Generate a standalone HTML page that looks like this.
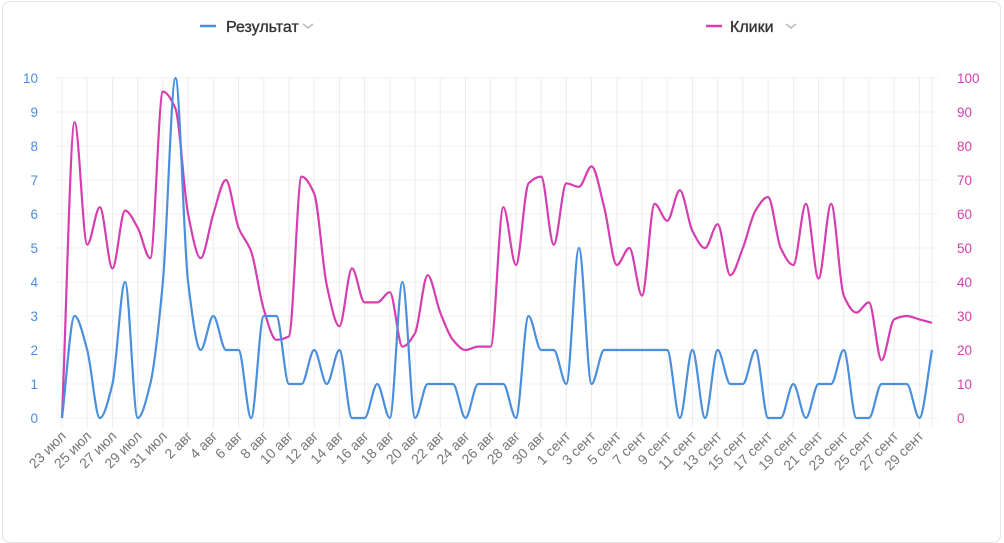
<!DOCTYPE html>
<html><head><meta charset="utf-8"><style>
body{margin:0;background:#fff;width:1004px;height:530px;overflow:hidden;font-family:"Liberation Sans",sans-serif}
.card{position:absolute;left:2px;top:1px;width:997px;height:540px;border:1px solid #e3e3e3;border-radius:8px}
</style></head><body>
<div class="card"></div>
<svg id="s" width="1004" height="530" style="position:absolute;left:0;top:0" font-family="Liberation Sans, sans-serif"></svg>
<script>
var s=document.getElementById('s'),h='';
var B=[0,3,2,0,1,4,0,1,4,10,4,2,3,2,2,0,3,3,1,1,2,1,2,0,0,1,0,4,0,1,1,1,0,1,1,1,0,3,2,2,1,5,1,2,2,2,2,2,2,0,2,0,2,1,1,2,0,0,1,0,1,1,2,0,0,1,1,1,0,2];
var P=[0,87,51,62,44,61,56,47,96,91,60,47,60,70,56,49,32,23,24,71,66,39,27,44,34,34,37,21,25,42,31,23,20,21,21,62,45,69,71,51,69,68,74,62,45,50,36,63,58,67,55,50,57,42,50,61,65,50,45,63,41,63,36,31,34,17,29,30,29,28];
function X(d){return 62+d*870/69}
var mon=['июл','авг','сент'];
for(var v=0;v<=10;v++){var y=418-v*34;h+='<line x1="55" x2="938" y1="'+y+'" y2="'+y+'" stroke="#f0f0f0"/>';
h+='<text x="38" y="'+(y+5)+'" text-anchor="end" font-size="13.5" fill="#4a8fdd">'+v+'</text>';
h+='<text x="957" y="'+(y+5)+'" font-size="13.5" fill="#d63eaf">'+(v*10)+'</text>';}
for(var d=0;d<=68;d+=2){var x=X(d);h+='<line x1="'+x+'" x2="'+x+'" y1="78" y2="428" stroke="#ececec"/>';
var dd=new Date(2023,6,23+d);var lab=dd.getDate()+' '+mon[dd.getMonth()-6];
h+='<text transform="translate('+(x+5)+',437) rotate(-45)" text-anchor="end" font-size="14" fill="#777">'+lab+'</text>';}
h+='<line x1="932" x2="932" y1="78" y2="428" stroke="#ececec"/>';
function path(a,sc){var n=a.length,xs=[],ys=[];for(var i=0;i<n;i++){xs.push(X(i));ys.push(418-a[i]*sc)}
var dl=[],m=[];for(i=0;i<n-1;i++)dl.push((ys[i+1]-ys[i])/(xs[i+1]-xs[i]));
m[0]=dl[0];m[n-1]=dl[n-2];for(i=1;i<n-1;i++){if(dl[i-1]*dl[i]<=0)m[i]=0;else m[i]=2/(1/dl[i-1]+1/dl[i]);}
var p='M'+xs[0]+','+ys[0];for(i=0;i<n-1;i++){var hh=(xs[i+1]-xs[i])/3;
p+='C'+(xs[i]+hh)+','+(ys[i]+m[i]*hh)+' '+(xs[i+1]-hh)+','+(ys[i+1]-m[i+1]*hh)+' '+xs[i+1]+','+ys[i+1];}return p}
h+='<path d="'+path(P,3.4)+'" fill="none" stroke="#d63eaf" stroke-width="2.2"/>';
h+='<path d="'+path(B,34)+'" fill="none" stroke="#4a8fdd" stroke-width="2.2"/>';
h+='<line x1="200" x2="216" y1="26" y2="26" stroke="#4a8fdd" stroke-width="2.5"/><text x="226" y="32" font-size="16" fill="#333" stroke="#333" stroke-width="0.35">Результат</text><path d="M303,24 l5,4 l5,-4" fill="none" stroke="#bbb" stroke-width="1.6"/>';
h+='<line x1="706" x2="722" y1="26" y2="26" stroke="#d63eaf" stroke-width="2.5"/><text x="730" y="32" font-size="16" fill="#333" stroke="#333" stroke-width="0.35">Клики</text><path d="M786,24 l5,4 l5,-4" fill="none" stroke="#bbb" stroke-width="1.6"/>';
s.innerHTML=h;
</script>
</body></html>
